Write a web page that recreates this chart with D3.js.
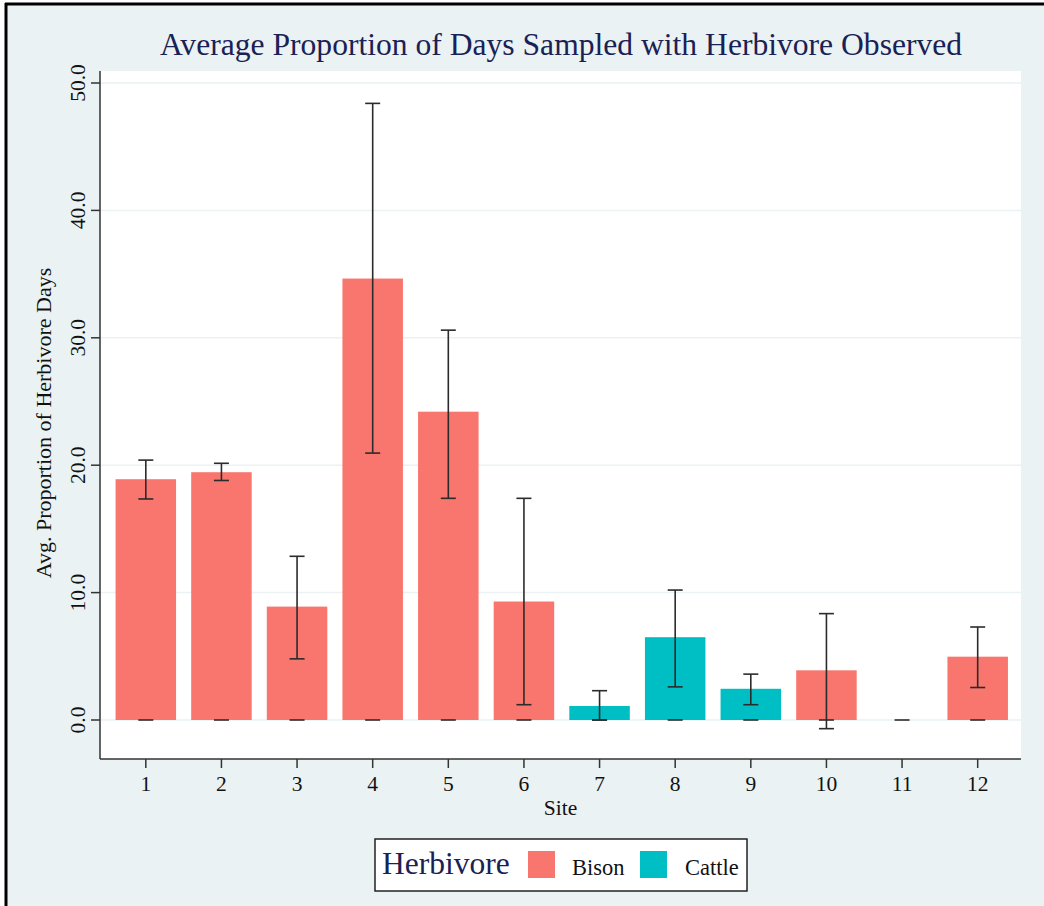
<!DOCTYPE html>
<html>
<head>
<meta charset="utf-8">
<script src="https://cdn.jsdelivr.net/npm/d3@7"></script>
<style>
  html, body { margin: 0; padding: 0; background: #ffffff; }
  svg { display: block; }
  text { font-family: "Liberation Serif", "Times New Roman", serif; }
</style>
</head>
<body>
<script>
// Sites and the herbivore recorded at each
const sites = ["1", "2", "3", "4", "5", "6", "7", "8", "9", "10", "11", "12"];
const herbivore = ["Bison", "Bison", "Bison", "Bison", "Bison", "Bison",
                   "Cattle", "Cattle", "Cattle", "Bison", "Bison", "Bison"];
// Mean proportion of days with herbivore observed (%)
const meanValues = [18.9, 19.45, 8.9, 34.65, 24.2, 9.3, 1.1, 6.5, 2.45, 3.9, 0, 4.97];
// Error bar limits
const upperValues = [20.4, 20.15, 12.85, 48.4, 30.6, 17.4, 2.3, 10.2, 3.6, 8.35, 0, 7.3];
const lowerValues = [17.35, 18.8, 4.8, 20.95, 17.4, 1.2, 0, 2.6, 1.2, -0.68, 0, 2.55];
// Axis ticks
const yTicks = [0, 10, 20, 30, 40, 50];
const herbivoreKinds = ["Bison", "Cattle"];

const W = 1044, H = 906;
const bg = "#EAF2F3";
const titleColor = "#1A2155";
const colour = d3.scaleOrdinal().domain(herbivoreKinds).range(["#F8766D", "#00BFC4"]);

const svg = d3.select("body").append("svg").attr("width", W).attr("height", H);

// Outer background with a heavy frame on the top and left
svg.append("rect").attr("x", 5).attr("y", 4).attr("width", W - 5).attr("height", H - 4).attr("fill", bg);
svg.append("line").attr("x1", 5).attr("x2", W).attr("y1", 4).attr("y2", 4)
  .attr("stroke", "#000").attr("stroke-width", 3);
svg.append("line").attr("x1", 6).attr("x2", 6).attr("y1", 3).attr("y2", H)
  .attr("stroke", "#000").attr("stroke-width", 3);

// Plot region
const plot = { left: 100, right: 1021, top: 71, bottom: 759 };
svg.append("rect").attr("x", plot.left).attr("y", plot.top)
  .attr("width", plot.right - plot.left).attr("height", plot.bottom - plot.top)
  .attr("fill", "#ffffff");

const x = d3.scaleBand().domain(sites).range([108, 1015.5])
  .paddingInner(0.2).paddingOuter(0.1);
const y = d3.scaleLinear().domain([0, 50]).range([720, 83]);

// Horizontal grid
svg.append("g").selectAll("line").data(yTicks).join("line")
  .attr("x1", plot.left).attr("x2", plot.right)
  .attr("y1", d => y(d)).attr("y2", d => y(d))
  .attr("stroke", bg).attr("stroke-width", 1.5);

// Bars
const data = sites.map((s, i) => ({
  site: s, kind: herbivore[i], mean: meanValues[i], hi: upperValues[i], lo: lowerValues[i]
}));

svg.append("g").selectAll("rect").data(data.filter(d => d.mean > 0)).join("rect")
  .attr("x", d => x(d.site)).attr("width", x.bandwidth())
  .attr("y", d => y(d.mean)).attr("height", d => y(0) - y(d.mean))
  .attr("fill", d => colour(d.kind));

// Error bars with caps, plus a cap on the baseline for every site
const capHalf = 7.5;
const eb = svg.append("g").attr("stroke", "#2b2b2b").attr("stroke-width", 1.6);
data.forEach(d => {
  const cx = x(d.site) + x.bandwidth() / 2;
  eb.append("line").attr("x1", cx - capHalf).attr("x2", cx + capHalf)
    .attr("y1", y(0)).attr("y2", y(0));
  if (d.hi !== d.lo) {
    eb.append("line").attr("x1", cx).attr("x2", cx).attr("y1", y(d.hi)).attr("y2", y(d.lo));
    [d.hi, d.lo].forEach(v => {
      eb.append("line").attr("x1", cx - capHalf).attr("x2", cx + capHalf)
        .attr("y1", y(v)).attr("y2", y(v));
    });
  }
});

// Y axis
const yAxis = svg.append("g").attr("transform", `translate(${plot.left},0)`);
yAxis.append("line").attr("x1", 0).attr("x2", 0).attr("y1", plot.top).attr("y2", plot.bottom)
  .attr("stroke", "#333").attr("stroke-width", 1.5);
yAxis.selectAll("line.tick").data(yTicks).join("line").attr("class", "tick")
  .attr("x1", -9).attr("x2", 0).attr("y1", d => y(d)).attr("y2", d => y(d))
  .attr("stroke", "#333").attr("stroke-width", 1.5);
yAxis.selectAll("text").data(yTicks).join("text")
  .attr("transform", d => `translate(-15,${y(d)}) rotate(-90)`)
  .attr("text-anchor", "middle").attr("font-size", 21.5).attr("fill", "#111")
  .text(d => d3.format(".1f")(d));

svg.append("text")
  .attr("transform", `translate(51,${(plot.top + plot.bottom) / 2 + 8}) rotate(-90)`)
  .attr("text-anchor", "middle").attr("font-size", 22).attr("fill", "#111")
  .text("Avg. Proportion of Herbivore Days");

// X axis
const xAxis = svg.append("g").attr("transform", `translate(0,${plot.bottom})`);
xAxis.append("line").attr("x1", plot.left).attr("x2", plot.right).attr("y1", 0).attr("y2", 0)
  .attr("stroke", "#333").attr("stroke-width", 1.5);
xAxis.selectAll("line.tick").data(sites).join("line").attr("class", "tick")
  .attr("x1", d => x(d) + x.bandwidth() / 2).attr("x2", d => x(d) + x.bandwidth() / 2)
  .attr("y1", 0).attr("y2", 9).attr("stroke", "#333").attr("stroke-width", 1.5);
xAxis.selectAll("text").data(sites).join("text")
  .attr("x", d => x(d) + x.bandwidth() / 2).attr("y", 32)
  .attr("text-anchor", "middle").attr("font-size", 21.5).attr("fill", "#111")
  .text(d => d);

svg.append("text").attr("x", (plot.left + plot.right) / 2).attr("y", 815)
  .attr("text-anchor", "middle").attr("font-size", 21.5).attr("fill", "#111").text("Site");

// Title
svg.append("text").attr("x", 561).attr("y", 55)
  .attr("text-anchor", "middle").attr("font-size", 31.6).attr("fill", titleColor)
  .text("Average Proportion of Days Sampled with Herbivore Observed");

// Legend
const lg = svg.append("g");
lg.append("rect").attr("x", 375).attr("y", 839).attr("width", 372).attr("height", 52)
  .attr("fill", "#fff").attr("stroke", "#222").attr("stroke-width", 1.5);
lg.append("text").attr("x", 382).attr("y", 874).attr("font-size", 31.5).attr("fill", titleColor)
  .text("Herbivore");
const legendPos = [{ sx: 528, tx: 572 }, { sx: 640, tx: 685 }];
herbivoreKinds.forEach((k, i) => {
  lg.append("rect").attr("x", legendPos[i].sx).attr("y", 851).attr("width", 27).attr("height", 27)
    .attr("fill", colour(k));
  lg.append("text").attr("x", legendPos[i].tx).attr("y", 875).attr("font-size", 22.5)
    .attr("fill", "#111").text(k);
});
</script>
</body>
</html>
